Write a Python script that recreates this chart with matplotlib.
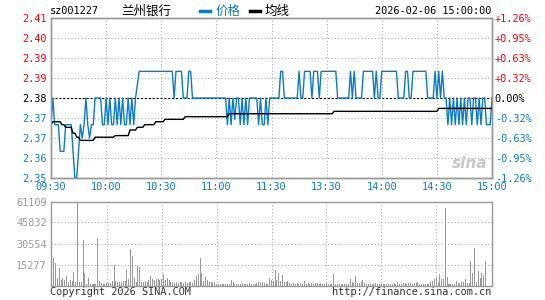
import matplotlib
matplotlib.use("Agg")
import matplotlib.pyplot as plt
from matplotlib.lines import Line2D
import numpy as np

code = "sz001227"
name = "兰州银行"
stamp = "2026-02-06 15:00:00"
prev_close = 2.38

price = [
    2.37, 2.38, 2.37, 2.37, 2.37, 2.36, 2.36, 2.36, 2.37, 2.37,
    2.37, 2.37, 2.36, 2.35, 2.35, 2.36, 2.37, 2.365, 2.37, 2.38,
    2.37, 2.365, 2.37, 2.37, 2.38, 2.38, 2.38, 2.38, 2.37, 2.37,
    2.38, 2.37, 2.38, 2.37, 2.37, 2.38, 2.37, 2.38, 2.37, 2.38,
    2.37, 2.37, 2.38, 2.37, 2.38, 2.37, 2.38, 2.385, 2.39, 2.39,
    2.39, 2.39, 2.39, 2.39, 2.39, 2.39, 2.39, 2.39, 2.39, 2.39,
    2.39, 2.39, 2.39, 2.39, 2.39, 2.39, 2.39, 2.38, 2.39, 2.39,
    2.39, 2.39, 2.38, 2.38, 2.38, 2.39, 2.39, 2.38, 2.38, 2.38,
    2.38, 2.38, 2.38, 2.38, 2.38, 2.38, 2.38, 2.38, 2.38, 2.38,
    2.38, 2.38, 2.38, 2.38, 2.38, 2.38, 2.37, 2.38, 2.37, 2.38,
    2.372, 2.38, 2.38, 2.37, 2.38, 2.37, 2.38, 2.37, 2.38, 2.38,
    2.38, 2.38, 2.38, 2.37, 2.38, 2.37, 2.37, 2.38, 2.37, 2.38,
    2.38, 2.38, 2.38, 2.38, 2.38, 2.39, 2.39, 2.38, 2.38, 2.38,
    2.38, 2.38, 2.38, 2.38, 2.38, 2.39, 2.38, 2.38, 2.39, 2.39,
    2.39, 2.39, 2.38, 2.39, 2.39, 2.39, 2.38, 2.39, 2.39, 2.39,
    2.39, 2.39, 2.39, 2.39, 2.39, 2.39, 2.38, 2.38, 2.38, 2.38,
    2.38, 2.38, 2.38, 2.39, 2.38, 2.39, 2.38, 2.38, 2.38, 2.38,
    2.39, 2.39, 2.39, 2.39, 2.39, 2.39, 2.38, 2.39, 2.38, 2.38,
    2.39, 2.39, 2.39, 2.39, 2.39, 2.39, 2.39, 2.39, 2.39, 2.38,
    2.38, 2.38, 2.38, 2.39, 2.39, 2.38, 2.38, 2.39, 2.39, 2.39,
    2.39, 2.39, 2.39, 2.39, 2.39, 2.38, 2.38, 2.38, 2.38, 2.39,
    2.38, 2.39, 2.38, 2.39, 2.38, 2.38, 2.37, 2.38, 2.37, 2.38,
    2.37, 2.38, 2.37, 2.38, 2.37, 2.38, 2.37, 2.38, 2.38, 2.37,
    2.38, 2.38, 2.37, 2.38, 2.37, 2.38, 2.38, 2.37, 2.37, 2.37,
    2.38,
]

avg = [
    2.370, 2.3711, 2.3711, 2.3711, 2.3711, 2.3711, 2.370, 2.370, 2.369, 2.369,
    2.369, 2.369, 2.3668, 2.3668, 2.3653, 2.3653, 2.3641, 2.3641, 2.3641, 2.3641,
    2.3641, 2.3641, 2.3641, 2.3641, 2.3653, 2.3653, 2.3653, 2.3653, 2.3653, 2.3653,
    2.3653, 2.3653, 2.3653, 2.3653, 2.3653, 2.3659, 2.3659, 2.3659, 2.3659, 2.3659,
    2.3659, 2.3659, 2.3659, 2.368, 2.368, 2.368, 2.368, 2.369, 2.369, 2.369,
    2.369, 2.370, 2.370, 2.370, 2.370, 2.370, 2.370, 2.3711, 2.3711, 2.3711,
    2.3711, 2.3711, 2.372, 2.372, 2.372, 2.372, 2.372, 2.372, 2.372, 2.372,
    2.372, 2.372, 2.372, 2.373, 2.373, 2.373, 2.373, 2.373, 2.373, 2.373,
    2.373, 2.373, 2.373, 2.373, 2.373, 2.373, 2.373, 2.373, 2.373, 2.373,
    2.373, 2.373, 2.373, 2.373, 2.373, 2.373, 2.373, 2.3741, 2.3741, 2.3741,
    2.3741, 2.3741, 2.3741, 2.3741, 2.3741, 2.3741, 2.3741, 2.3741, 2.3741, 2.3741,
    2.3741, 2.3741, 2.3741, 2.3741, 2.3741, 2.3741, 2.3741, 2.3741, 2.3741, 2.3741,
    2.3741, 2.3741, 2.3741, 2.3741, 2.3741, 2.3741, 2.3741, 2.3741, 2.3741, 2.3741,
    2.3741, 2.3741, 2.3741, 2.3741, 2.3741, 2.3741, 2.3741, 2.3741, 2.3741, 2.3741,
    2.3741, 2.3741, 2.3741, 2.3741, 2.3741, 2.3741, 2.3741, 2.3741, 2.3741, 2.3741,
    2.3741, 2.3741, 2.3741, 2.3741, 2.375, 2.375, 2.375, 2.375, 2.375, 2.375,
    2.375, 2.375, 2.375, 2.375, 2.375, 2.375, 2.375, 2.375, 2.375, 2.375,
    2.375, 2.375, 2.375, 2.375, 2.375, 2.375, 2.375, 2.375, 2.375, 2.375,
    2.375, 2.375, 2.375, 2.375, 2.375, 2.375, 2.375, 2.375, 2.375, 2.375,
    2.375, 2.375, 2.375, 2.375, 2.375, 2.375, 2.375, 2.375, 2.375, 2.375,
    2.375, 2.375, 2.375, 2.375, 2.375, 2.375, 2.375, 2.375, 2.375, 2.375,
    2.375, 2.3761, 2.3761, 2.3761, 2.3761, 2.3761, 2.3761, 2.3761, 2.3761, 2.3761,
    2.3761, 2.3761, 2.3761, 2.3761, 2.3761, 2.3761, 2.3761, 2.3761, 2.3761, 2.3761,
    2.3761, 2.3761, 2.3761, 2.3761, 2.3761, 2.3761, 2.3761, 2.3761, 2.3761, 2.3761,
    2.3761,
]

volume = [
    15000, 19900, 16250, 5300, 12600, 4100, 5300, 4100, 7000, 2900,
    3900, 3400, 9700, 2900, 61109, 2400, 2400, 33000, 9000, 1000,
    5300, 1200, 1000, 1200, 1000, 34400, 3400, 1500, 1200, 1000,
    1500, 1500, 1600, 3400, 15000, 3400, 2400, 2400, 2400, 3000,
    3600, 11900, 4600, 26700, 21300, 5300, 2400, 14000, 13300, 2900,
    2400, 3400, 2900, 4100, 7000, 4600, 4100, 4600, 4600, 3900,
    4600, 8200, 4100, 5300, 4100, 2400, 2400, 1500, 2400, 1500,
    2400, 2900, 1500, 2400, 1500, 2400, 2900, 1500, 4100, 7000,
    8200, 19900, 9000, 3400, 6000, 4100, 2400, 2400, 1500, 2400,
    1200, 1000, 1200, 1000, 1200, 1000, 1200, 1000, 3900, 2400,
    1000, 1200, 1000, 1200, 1500, 1000, 1200, 1000, 2000, 1200,
    1000, 1200, 1500, 2400, 1500, 2400, 1500, 1200, 1000, 5300,
    4100, 3400, 11100, 4100, 9000, 3400, 7800, 2400, 2900, 3400,
    1500, 1200, 1500, 1200, 1500, 1200, 1500, 1200, 3400, 1200,
    1500, 1200, 1500, 1200, 1500, 1500, 1200, 1500, 1200, 1000,
    1500, 1200, 1000, 1200, 8200, 1200, 1000, 1200, 1000, 1200,
    1000, 1200, 1000, 4600, 2400, 1500, 7000, 1500, 2000, 2400,
    4100, 1500, 1200, 1000, 1200, 1000, 1200, 1500, 1000, 1200,
    1000, 1200, 1000, 1200, 1000, 1200, 1000, 1500, 1200, 2400,
    1200, 1000, 1500, 1500, 1200, 1500, 1500, 1200, 1500, 1500,
    2900, 1200, 1000, 1200, 1200, 1000, 1200, 2900, 3400, 4600,
    6000, 2900, 8200, 4600, 4600, 56300, 6500, 1000, 1000, 1000,
    1000, 3600, 1500, 2000, 2900, 2400, 4600, 1500, 1500, 17500,
    9000, 27200, 2400, 10700, 5300, 9000, 7800, 17500, 0, 0,
    0,
]

price_ticks = [2.35, 2.3575, 2.365, 2.3725, 2.38, 2.3875, 2.395, 2.4025, 2.41]
price_labels = ["2.35", "2.36", "2.37", "2.37", "2.38", "2.39", "2.39", "2.40", "2.41"]
pct_labels = ["-1.26%", "-0.95%", "-0.63%", "-0.32%", "0.00%", "+0.32%", "+0.63%", "+0.95%", "+1.26%"]
time_ticks = [0, 30, 60, 90, 120, 150, 180, 210, 240]
time_labels = ["09:30", "10:00", "10:30", "11:00", "11:30", "13:30", "14:00", "14:30", "15:00"]
vol_ticks = [15277, 30554, 45832, 61109]

assert len(price) == 241 and len(avg) == 241 and len(volume) == 241

BLUE = "#0a7cc6"
RED = "#ff0000"
GRAY = "#999999"
MONO = "DejaVu Sans Mono"
CJK = ["Noto Sans CJK SC", "DejaVu Sans"]
FS = 7.4

W, H = 545, 300
fig = plt.figure(figsize=(W / 100, H / 100), dpi=100)
fig.patch.set_facecolor("white")

def fx(x):
    return x / W

def fy(y):
    return 1 - y / H

ax = fig.add_axes([fx(51), fy(178), (492 - 51) / W, (178 - 18) / H])
axv = fig.add_axes([fx(51), fy(285.5), (492 - 51) / W, (285.5 - 201.5) / H])

minutes = np.arange(len(price))

# price panel
ax.set_xlim(0, 240)
ax.set_ylim(price_ticks[0], price_ticks[-1])
for t in price_ticks[1:-1]:
    if abs(t - prev_close) < 1e-9:
        ax.axhline(t, color="black", lw=0.8, ls=(0, (2, 1.5)), zorder=1)
    else:
        ax.axhline(t, color="#aaaaaa", lw=0.8, ls=(0, (1, 2)), zorder=1)
for t in time_ticks[1:-1]:
    ax.axvline(t, color="#aaaaaa", lw=0.8, ls=(0, (1, 2)), zorder=1)
ax.plot(minutes, price, color=BLUE, lw=1.0, zorder=3)
ax.plot(minutes, avg, color="black", lw=1.0, zorder=4)

ax.set_yticks(price_ticks)
ax.set_yticklabels(price_labels, fontfamily=MONO, fontsize=FS)
for lab, t in zip(ax.get_yticklabels(), price_ticks):
    lab.set_color(RED if t > prev_close + 1e-9 else ("black" if abs(t - prev_close) < 1e-9 else BLUE))
ax.set_xticks(time_ticks)
ax.set_xticklabels(time_labels, fontfamily=MONO, fontsize=FS, color=BLUE)
ax.tick_params(length=0, pad=3)
ax.tick_params(axis="x", pad=3)

axr = ax.twinx()
axr.set_ylim(price_ticks[0], price_ticks[-1])
axr.set_yticks(price_ticks)
axr.set_yticklabels(pct_labels, fontfamily=MONO, fontsize=FS)
for lab, t in zip(axr.get_yticklabels(), price_ticks):
    lab.set_color(RED if t > prev_close + 1e-9 else ("black" if abs(t - prev_close) < 1e-9 else BLUE))
axr.tick_params(length=0, pad=2)

for a in (ax, axr, axv):
    for s in a.spines.values():
        s.set_color(GRAY)
        s.set_linewidth(1.0)

# volume panel
axv.set_xlim(-0.5, 240.5)
axv.set_ylim(0, vol_ticks[-1])
for t in vol_ticks[:-1]:
    axv.axhline(t, color="#aaaaaa", lw=0.8, ls=(0, (1, 2)), zorder=1)
for t in time_ticks[1:-1]:
    axv.axvline(t, color="#aaaaaa", lw=0.8, ls=(0, (1, 2)), zorder=1)
axv.bar(minutes, volume, width=0.55, color=GRAY, linewidth=0, zorder=3)
axv.set_yticks(vol_ticks)
axv.set_yticklabels([str(v) for v in vol_ticks], fontfamily=MONO, fontsize=FS, color=GRAY)
axv.set_xticks([])
axv.tick_params(length=0, pad=3)

# header
fig.text(fx(50), fy(11), code, fontfamily=MONO, fontsize=FS, va="center", ha="left", color="black")
fig.text(fx(121), fy(11), name, fontfamily=CJK, fontsize=9, va="center", ha="left", color="black")
fig.add_artist(Line2D([fx(200), fx(210)], [fy(11), fy(11)], color=BLUE, lw=2.5))
fig.text(fx(216), fy(11), "价格", fontfamily=CJK, fontsize=9, va="center", ha="left", color=BLUE)
fig.add_artist(Line2D([fx(250), fx(260)], [fy(11), fy(11)], color="black", lw=2.5))
fig.text(fx(265), fy(11), "均线", fontfamily=CJK, fontsize=9, va="center", ha="left", color="black")
fig.text(fx(491), fy(11), stamp, fontfamily=MONO, fontsize=FS, va="center", ha="right", color="black")

# footer
fig.text(fx(50), fy(292), "Copyright 2026 SINA.COM", fontfamily=MONO, fontsize=FS, va="center", ha="left", color="#333333")
fig.text(fx(491), fy(292), "http://finance.sina.com.cn", fontfamily=MONO, fontsize=FS, va="center", ha="right", color="#333333")

# watermark
fig.text(fx(470), fy(164), "sina", fontfamily="DejaVu Sans", fontsize=11, style="italic", weight="bold",
         color="#c8c8c8", ha="center", va="center", zorder=0)

fig.savefig("out.png", dpi=100, facecolor="white")
